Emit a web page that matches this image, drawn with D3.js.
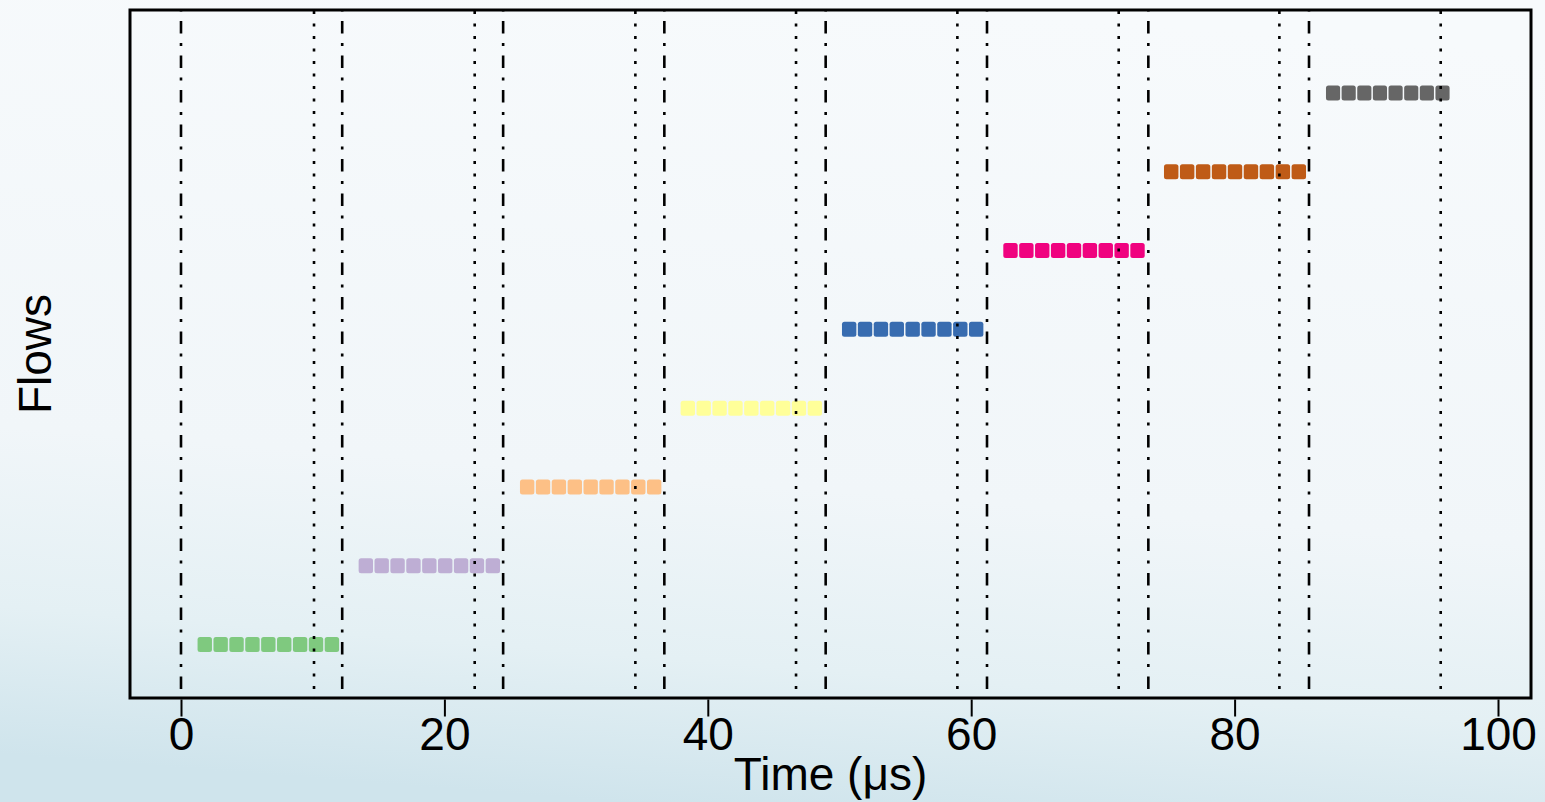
<!DOCTYPE html>
<html>
<head>
<meta charset="utf-8">
<script src="https://cdn.jsdelivr.net/npm/d3@7"></script>
<style>
  html, body { margin: 0; padding: 0; overflow: hidden; }
  svg { display: block; font-family: "Liberation Sans", Arial, sans-serif; }
</style>
</head>
<body>
<script>
// flows: start / end time (us) and number of packets
var flowIds = [1, 2, 3, 4, 5, 6, 7, 8];
var flowStart = [1.22, 13.45, 25.7, 37.9, 50.15, 62.4, 74.6, 86.9];
var flowEnd = [12.08, 24.3, 36.55, 48.75, 61.0, 73.25, 85.5, 96.4];
var packetCount = [9, 9, 9, 9, 9, 9, 9, 8];
// vertical reference lines (us)
var dashLines = [0, 12.24, 24.46, 36.7, 48.95, 61.2, 73.45, 85.65];
var dotLines = [10.1, 22.3, 34.5, 46.7, 58.95, 71.2, 83.4, 95.65];
var xTicks = [0, 20, 40, 60, 80, 100];

var width = 1545, height = 802;
var plotLeft = 130, plotRight = 1531, plotTop = 10, plotBottom = 698;

var svg = d3.select("body").append("svg")
  .attr("width", width)
  .attr("height", height);

var defs = svg.append("defs");
var grad = defs.append("linearGradient")
  .attr("id", "bg")
  .attr("x1", "0.55").attr("y1", "0")
  .attr("x2", "0.4").attr("y2", "1");
grad.append("stop").attr("offset", "0%").attr("stop-color", "#f7fafc");
grad.append("stop").attr("offset", "60%").attr("stop-color", "#f1f6f9");
grad.append("stop").attr("offset", "82%").attr("stop-color", "#e4f0f4");
grad.append("stop").attr("offset", "100%").attr("stop-color", "#cfe4ec");

svg.append("rect")
  .attr("width", width)
  .attr("height", height)
  .attr("fill", "url(#bg)");

var x = d3.scaleLinear().domain([0, 100]).range([181, 1498]);
var y = d3.scaleLinear().domain([1, 8]).range([644.5, 93]);
var colors = d3.scaleOrdinal(d3.schemeAccent);

// packets
var packets = [];
for (var i = 0; i < flowIds.length; i++) {
  var dur = (flowEnd[i] - flowStart[i]) / packetCount[i];
  for (var j = 0; j < packetCount[i]; j++) {
    packets.push({ flow: flowIds[i], t0: flowStart[i] + j * dur, t1: flowStart[i] + (j + 1) * dur });
  }
}

svg.append("g")
  .selectAll("rect")
  .data(packets)
  .enter()
  .append("rect")
  .attr("x", function(d) { return x(d.t0) + 0.5; })
  .attr("y", function(d) { return y(d.flow) - 7.5; })
  .attr("width", function(d) { return x(d.t1) - x(d.t0) - 1.5; })
  .attr("height", 15)
  .attr("rx", 2.5)
  .attr("fill", function(d) { return colors(d.flow); });

// dot-dash lines
svg.append("g")
  .selectAll("line")
  .data(dashLines)
  .enter()
  .append("line")
  .attr("x1", function(d) { return x(d); })
  .attr("x2", function(d) { return x(d); })
  .attr("y1", plotBottom)
  .attr("y2", plotTop)
  .attr("stroke", "#000")
  .attr("stroke-width", 2.6)
  .attr("stroke-dasharray", "12.5,9.5,3,9.5")
  .attr("stroke-dashoffset", 25.5);

// dotted lines
svg.append("g")
  .selectAll("line")
  .data(dotLines)
  .enter()
  .append("line")
  .attr("x1", function(d) { return x(d); })
  .attr("x2", function(d) { return x(d); })
  .attr("y1", plotBottom)
  .attr("y2", plotTop)
  .attr("stroke", "#000")
  .attr("stroke-width", 2.6)
  .attr("stroke-dasharray", "3,9.5")
  .attr("stroke-dashoffset", 3.5);

// frame
svg.append("rect")
  .attr("x", plotLeft)
  .attr("y", plotTop)
  .attr("width", plotRight - plotLeft)
  .attr("height", plotBottom - plotTop)
  .attr("fill", "none")
  .attr("stroke", "#000")
  .attr("stroke-width", 3);

// x axis
var axis = svg.append("g")
  .attr("transform", "translate(0," + (plotBottom + 1.5) + ")")
  .call(d3.axisBottom(x).tickValues(xTicks).tickSize(17).tickPadding(1).tickFormat(d3.format("d")));
axis.select(".domain").remove();
axis.selectAll(".tick line").attr("stroke", "#000").attr("stroke-width", 2);
axis.selectAll(".tick text")
  .attr("fill", "#000")
  .style("font-size", "46px")
  .style("font-family", "'Liberation Sans', Arial, sans-serif");

svg.append("text")
  .attr("x", (plotLeft + plotRight) / 2)
  .attr("y", 790)
  .attr("text-anchor", "middle")
  .style("font-size", "46px")
  .text("Time (\u03bcs)");

svg.append("text")
  .attr("transform", "translate(51," + ((plotTop + plotBottom) / 2) + ") rotate(-90)")
  .attr("text-anchor", "middle")
  .style("font-size", "46px")
  .text("Flows");
</script>
</body>
</html>
